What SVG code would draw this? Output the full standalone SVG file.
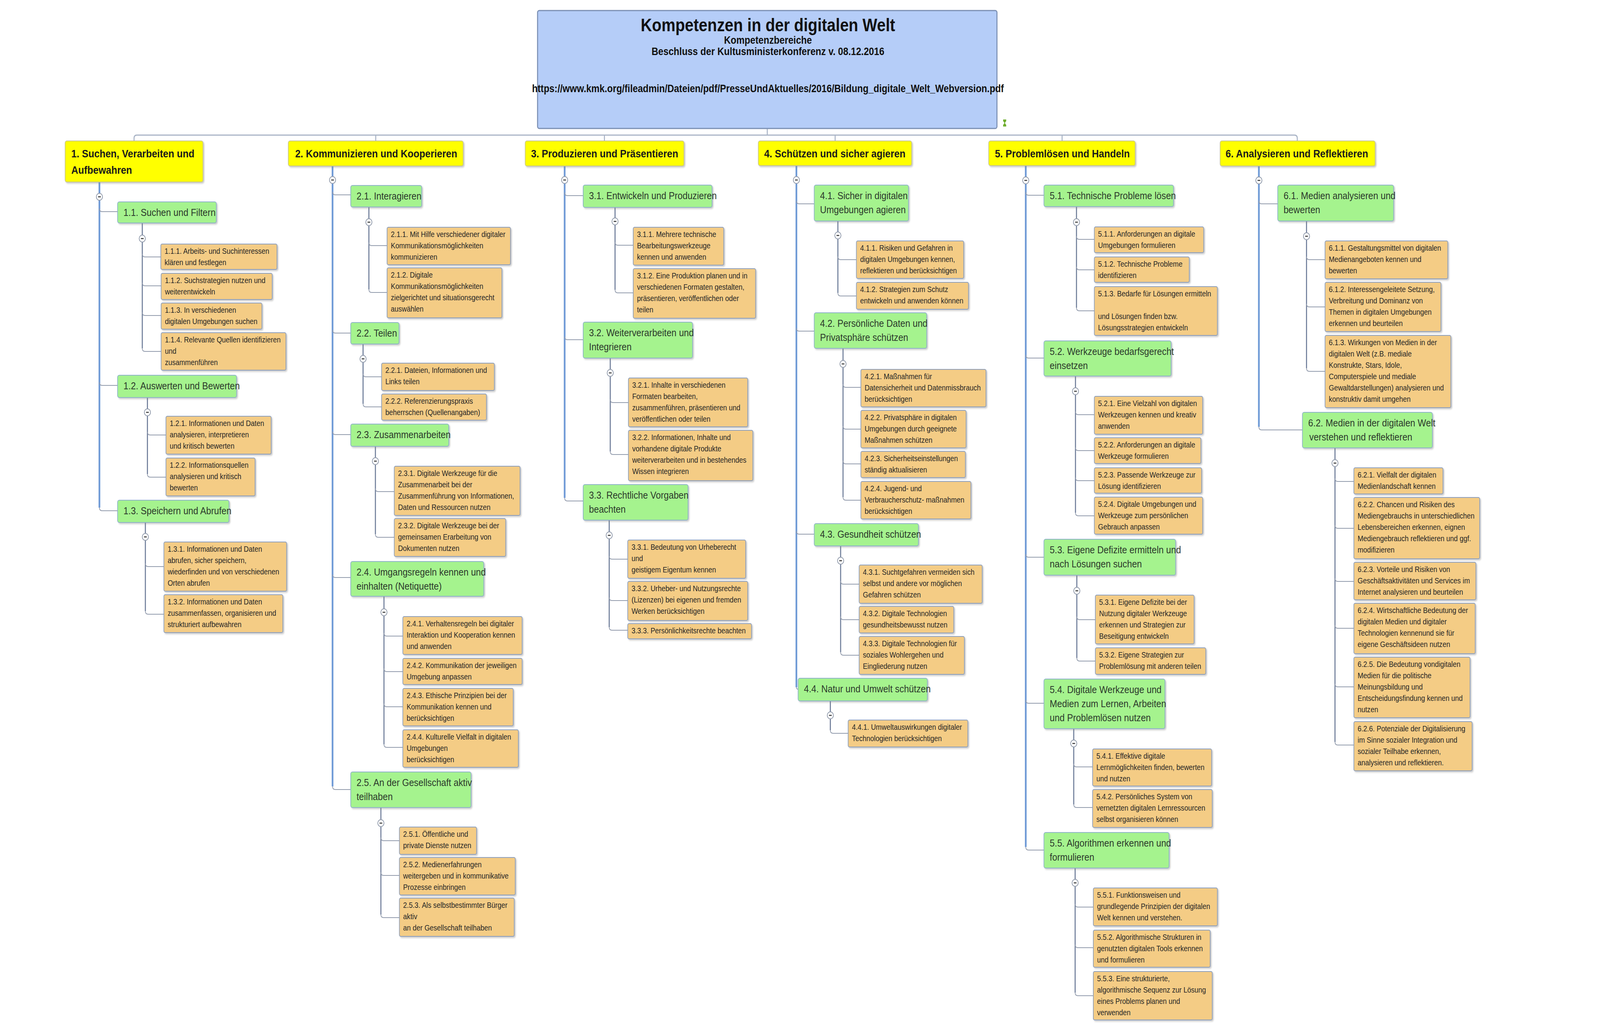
<svg xmlns="http://www.w3.org/2000/svg" width="4667" height="2625" viewBox="0 0 4667 2625" preserveAspectRatio="none" style="width:100vw;height:100vh;display:block">
<defs>
<style>
.b0{fill:#b5cdf8;stroke:#7b8fb3;stroke-width:3}
.b1{fill:#ffff00;stroke:#c9c78a;stroke-width:2;filter:url(#sh)}
.b2{fill:#a5f38e;stroke:#8eb3c9;stroke-width:2;filter:url(#sh)}
.b3{fill:#f4cc85;stroke:#8d9fbd;stroke-width:2;filter:url(#sh)}
.t0{font-family:'Liberation Sans',Arial,sans-serif;font-weight:bold;fill:#111;text-anchor:middle}
.t1{font-family:'Liberation Sans',Arial,sans-serif;font-weight:bold;font-size:28px;fill:#1a1a1a}
.t2{font-family:'Liberation Sans',Arial,sans-serif;font-size:26px;fill:#2c3a2c}
.t3{font-family:'Liberation Sans',Arial,sans-serif;font-size:20px;fill:#262626}
.bus{fill:none;stroke:#a9b4c6;stroke-width:3}
.tr1{fill:none;stroke:#6f9ad6;stroke-width:5}
.tr2{fill:none;stroke:#6c7b98;stroke-width:3}
.br{fill:none;stroke:#939cad;stroke-width:2}
</style>
<filter id="sh" x="-5%" y="-5%" width="115%" height="125%">
<feDropShadow dx="3" dy="3" stdDeviation="2" flood-color="#8a8a8a" flood-opacity="0.45"/>
</filter>
<g id="mn"><circle r="9" fill="#fff" stroke="#8a94a6" stroke-width="2"/><line x1="-4" y1="0" x2="4" y2="0" stroke="#333" stroke-width="2.5"/></g>
</defs>
<rect width="4667" height="2625" fill="#fff"/>

<g id="connectors">
<path class="bus" d="M2238,329 V346 M391,361 V354 Q391,346 399,346 H3776 Q3784,346 3784,354 V361 M1096,346 V361 M1763,346 V361 M2436,346 V361 M3098,346 V361"/>
<!-- column 1 -->
<path class="tr1" d="M290,466 V1300"/>
<path class="br" d="M290,534 Q290,542 298,542 H343 M290,979 Q290,987 298,987 H343 M290,1300 Q290,1308 298,1308 H343"/>
<path class="tr2" d="M415,571 V892 M430,1018 V1214 M424,1338 V1565"/>
<path class="br" d="M415,650 Q415,658 423,658 H469 M415,724 Q415,732 423,732 H470 M415,800 Q415,808 423,808 H470 M415,892 Q415,900 423,900 H470"/>
<path class="br" d="M430,1106 Q430,1114 438,1114 H484 M430,1214 Q430,1222 438,1222 H484"/>
<path class="br" d="M424,1443 Q424,1451 432,1451 H478 M424,1565 Q424,1573 432,1573 H478"/>
<!-- column 2 -->
<path class="tr1" d="M970,425 V2014"/>
<path class="br" d="M970,491 Q970,499 978,499 H1023 M970,845 Q970,853 978,853 H1023 M970,1105 Q970,1113 978,1113 H1023 M970,1471 Q970,1479 978,1479 H1023 M970,2014 Q970,2022 978,2022 H1023"/>
<path class="tr2" d="M1076,530 V741 M1059,881 V1034 M1095,1143 V1368 M1120,1527 V1906 M1111,2068 V2342"/>
<path class="br" d="M1076,621 Q1076,629 1084,629 H1129 M1076,741 Q1076,749 1084,749 H1129"/>
<path class="br" d="M1059,957 Q1059,965 1067,965 H1113 M1059,1034 Q1059,1042 1067,1042 H1113"/>
<path class="br" d="M1095,1251 Q1095,1259 1103,1259 H1150 M1095,1368 Q1095,1376 1103,1376 H1150"/>
<path class="br" d="M1120,1621 Q1120,1629 1128,1629 H1175 M1120,1712 Q1120,1720 1128,1720 H1175 M1120,1802 Q1120,1810 1128,1810 H1175 M1120,1906 Q1120,1914 1128,1914 H1175"/>
<path class="br" d="M1111,2145 Q1111,2153 1119,2153 H1165 M1111,2234 Q1111,2242 1119,2242 H1165 M1111,2342 Q1111,2350 1119,2350 H1165"/>
<!-- column 3 -->
<path class="tr1" d="M1647,425 V1275"/>
<path class="br" d="M1647,493 Q1647,501 1655,501 H1701 M1647,862 Q1647,870 1655,870 H1701 M1647,1275 Q1647,1283 1655,1283 H1701"/>
<path class="tr2" d="M1794,531 V742 M1780,917 V1156 M1777,1332 V1606"/>
<path class="br" d="M1794,620 Q1794,628 1802,628 H1847 M1794,742 Q1794,750 1802,750 H1847"/>
<path class="br" d="M1780,1023 Q1780,1031 1788,1031 H1833 M1780,1156 Q1780,1164 1788,1164 H1833"/>
<path class="br" d="M1777,1424 Q1777,1432 1785,1432 H1831 M1777,1530 Q1777,1538 1785,1538 H1831 M1777,1606 Q1777,1614 1785,1614 H1831"/>
<!-- column 4 -->
<path class="tr1" d="M2323,423 V1760"/>
<path class="br" d="M2323,514 Q2323,522 2331,522 H2375 M2323,840 Q2323,848 2331,848 H2375 M2323,1360 Q2323,1368 2331,1368 H2375 M2323,1760 Q2323,1765 2328,1765"/>
<path class="tr2" d="M2444,566 V750 M2459,892 V1273 M2452,1398 V1670 M2422,1795 V1870"/>
<path class="br" d="M2444,657 Q2444,665 2452,665 H2498 M2444,750 Q2444,758 2452,758 H2498"/>
<path class="br" d="M2459,984 Q2459,992 2467,992 H2511 M2459,1091 Q2459,1099 2467,1099 H2511 M2459,1180 Q2459,1188 2467,1188 H2511 M2459,1273 Q2459,1281 2467,1281 H2511"/>
<path class="br" d="M2452,1488 Q2452,1496 2460,1496 H2506 M2452,1579 Q2452,1587 2460,1587 H2506 M2452,1670 Q2452,1678 2460,1678 H2506"/>
<path class="br" d="M2422,1870 Q2422,1878 2430,1878 H2474"/>
<!-- column 5 -->
<path class="tr1" d="M2992,424 V2169"/>
<path class="br" d="M2992,492 Q2992,500 3000,500 H3045 M2992,909 Q2992,917 3000,917 H3045 M2992,1419 Q2992,1427 3000,1427 H3045 M2992,1793 Q2992,1801 3000,1801 H3045 M2992,2169 Q2992,2177 3000,2177 H3045"/>
<path class="tr2" d="M3140,529 V788 M3137,963 V1313 M3141,1473 V1685 M3132,1866 V2060 M3136,2223 V2542"/>
<path class="br" d="M3140,605 Q3140,613 3148,613 H3192 M3140,683 Q3140,691 3148,691 H3192 M3140,788 Q3140,796 3148,796 H3192"/>
<path class="br" d="M3137,1054 Q3137,1062 3145,1062 H3192 M3137,1146 Q3137,1154 3145,1154 H3192 M3137,1223 Q3137,1231 3145,1231 H3192 M3137,1313 Q3137,1321 3145,1321 H3192"/>
<path class="br" d="M3141,1579 Q3141,1587 3149,1587 H3195 M3141,1685 Q3141,1693 3149,1693 H3195"/>
<path class="br" d="M3132,1956 Q3132,1964 3140,1964 H3187 M3132,2060 Q3132,2068 3140,2068 H3187"/>
<path class="br" d="M3136,2315 Q3136,2323 3144,2323 H3189 M3136,2419 Q3136,2427 3144,2427 H3189 M3136,2542 Q3136,2550 3144,2550 H3189"/>
<!-- column 6 -->
<path class="tr1" d="M3672,425 V1093"/>
<path class="br" d="M3672,514 Q3672,522 3680,522 H3727 M3672,1093 Q3672,1101 3680,1101 H3799"/>
<path class="tr2" d="M3811,566 V943 M3894,1147 V1900"/>
<path class="br" d="M3811,657 Q3811,665 3819,665 H3865 M3811,778 Q3811,786 3819,786 H3865 M3811,943 Q3811,951 3819,951 H3865"/>
<path class="br" d="M3894,1225 Q3894,1233 3902,1233 H3949 M3894,1345 Q3894,1353 3902,1353 H3949 M3894,1481 Q3894,1489 3902,1489 H3949 M3894,1601 Q3894,1609 3902,1609 H3949 M3894,1751 Q3894,1759 3902,1759 H3949 M3894,1900 Q3894,1908 3902,1908 H3949"/>
<!-- collapse markers -->
<use href="#mn" x="290" y="504"/><use href="#mn" x="415" y="611"/><use href="#mn" x="430" y="1056"/><use href="#mn" x="424" y="1375"/>
<use href="#mn" x="970" y="461"/><use href="#mn" x="1076" y="569"/><use href="#mn" x="1059" y="919"/><use href="#mn" x="1095" y="1181"/><use href="#mn" x="1120" y="1568"/><use href="#mn" x="1111" y="2108"/>
<use href="#mn" x="1647" y="461"/><use href="#mn" x="1794" y="567"/><use href="#mn" x="1780" y="955"/><use href="#mn" x="1777" y="1371"/>
<use href="#mn" x="2323" y="461"/><use href="#mn" x="2444" y="603"/><use href="#mn" x="2459" y="932"/><use href="#mn" x="2452" y="1436"/><use href="#mn" x="2422" y="1832"/>
<use href="#mn" x="2992" y="462"/><use href="#mn" x="3140" y="569"/><use href="#mn" x="3137" y="1002"/><use href="#mn" x="3141" y="1513"/><use href="#mn" x="3132" y="1904"/><use href="#mn" x="3136" y="2261"/>
<use href="#mn" x="3672" y="462"/><use href="#mn" x="3811" y="605"/><use href="#mn" x="3894" y="1186"/>
</g>

<g id="root">
<rect class="b0" x="1568" y="27" width="1340" height="302" rx="5"/>
<text class="t0" x="2240" y="80" font-size="45.5">Kompetenzen in der digitalen Welt</text>
<text class="t0" x="2240" y="112" font-size="27">Kompetenzbereiche</text>
<text class="t0" x="2240" y="141" font-size="27">Beschluss der Kultusministerkonferenz v. 08.12.2016</text>
<text class="t0" x="2240" y="236" font-size="26.8">https://www.kmk.org/fileadmin/Dateien/pdf/PresseUndAktuelles/2016/Bildung_digitale_Welt_Webversion.pdf</text>
<path d="M2926,306 h9 v4 l-4,5 l4,5 v4 h-9 v-4 l4,-5 l-4,-5 z" fill="#6fae2f"/>
</g>

<!-- Level 1 -->
<g id="n1"><rect class="b1" x="190" y="361" width="402" height="105" rx="5"/><text class="t1" x="208" y="403">1. Suchen, Verarbeiten und<tspan x="208" dy="42">Aufbewahren</tspan></text></g>
<g id="n2"><rect class="b1" x="841" y="361" width="510" height="64" rx="5"/><text class="t1" x="861" y="403">2. Kommunizieren und Kooperieren</text></g>
<g id="n3"><rect class="b1" x="1532" y="361" width="463" height="64" rx="5"/><text class="t1" x="1549" y="403">3. Produzieren und Präsentieren</text></g>
<g id="n4"><rect class="b1" x="2212" y="361" width="447" height="63" rx="5"/><text class="t1" x="2229" y="403">4. Schützen und sicher agieren</text></g>
<g id="n5"><rect class="b1" x="2884" y="361" width="427" height="63" rx="5"/><text class="t1" x="2902" y="403">5. Problemlösen und Handeln</text></g>
<g id="n6"><rect class="b1" x="3559" y="361" width="452" height="64" rx="5"/><text class="t1" x="3575" y="403">6. Analysieren und Reflektieren</text></g>

<!-- Level 2 -->
<g id="n1-1"><rect class="b2" x="343" y="517" width="288" height="54" rx="5"/><text class="t2" x="360" y="553">1.1. Suchen und Filtern</text></g>
<g id="n1-2"><rect class="b2" x="343" y="961" width="347" height="57" rx="5"/><text class="t2" x="360" y="997">1.2. Auswerten und Bewerten</text></g>
<g id="n1-3"><rect class="b2" x="343" y="1281" width="325" height="57" rx="5"/><text class="t2" x="360" y="1317">1.3. Speichern und Abrufen</text></g>
<g id="n2-1"><rect class="b2" x="1023" y="475" width="207" height="55" rx="5"/><text class="t2" x="1040" y="511">2.1. Interagieren</text></g>
<g id="n2-2"><rect class="b2" x="1023" y="826" width="141" height="55" rx="5"/><text class="t2" x="1040" y="862">2.2. Teilen</text></g>
<g id="n2-3"><rect class="b2" x="1023" y="1086" width="286" height="57" rx="5"/><text class="t2" x="1040" y="1122">2.3. Zusammenarbeiten</text></g>
<g id="n2-4"><rect class="b2" x="1023" y="1438" width="388" height="89" rx="5"/><text class="t2" x="1040" y="1474">2.4. Umgangsregeln kennen und<tspan x="1040" dy="36">einhalten (Netiquette)</tspan></text></g>
<g id="n2-5"><rect class="b2" x="1023" y="1977" width="351" height="91" rx="5"/><text class="t2" x="1040" y="2013">2.5. An der Gesellschaft aktiv<tspan x="1040" dy="36">teilhaben</tspan></text></g>
<g id="n3-1"><rect class="b2" x="1701" y="474" width="376" height="57" rx="5"/><text class="t2" x="1718" y="510">3.1. Entwickeln und Produzieren</text></g>
<g id="n3-2"><rect class="b2" x="1701" y="825" width="319" height="92" rx="5"/><text class="t2" x="1718" y="861">3.2. Weiterverarbeiten und<tspan x="1718" dy="36">Integrieren</tspan></text></g>
<g id="n3-3"><rect class="b2" x="1701" y="1241" width="306" height="91" rx="5"/><text class="t2" x="1718" y="1277">3.3. Rechtliche Vorgaben<tspan x="1718" dy="36">beachten</tspan></text></g>
<g id="n4-1"><rect class="b2" x="2375" y="474" width="275" height="92" rx="5"/><text class="t2" x="2392" y="510">4.1. Sicher in digitalen<tspan x="2392" dy="36">Umgebungen agieren</tspan></text></g>
<g id="n4-2"><rect class="b2" x="2375" y="801" width="328" height="91" rx="5"/><text class="t2" x="2392" y="837">4.2. Persönliche Daten und<tspan x="2392" dy="36">Privatsphäre schützen</tspan></text></g>
<g id="n4-3"><rect class="b2" x="2375" y="1341" width="304" height="57" rx="5"/><text class="t2" x="2392" y="1377">4.3. Gesundheit schützen</text></g>
<g id="n4-4"><rect class="b2" x="2328" y="1737" width="377" height="58" rx="5"/><text class="t2" x="2345" y="1773">4.4. Natur und Umwelt schützen</text></g>
<g id="n5-1"><rect class="b2" x="3045" y="474" width="378" height="55" rx="5"/><text class="t2" x="3062" y="510">5.1. Technische Probleme lösen</text></g>
<g id="n5-2"><rect class="b2" x="3045" y="873" width="371" height="90" rx="5"/><text class="t2" x="3062" y="909">5.2. Werkzeuge bedarfsgerecht<tspan x="3062" dy="36">einsetzen</tspan></text></g>
<g id="n5-3"><rect class="b2" x="3045" y="1381" width="384" height="92" rx="5"/><text class="t2" x="3062" y="1417">5.3. Eigene Defizite ermitteln und<tspan x="3062" dy="36">nach Lösungen suchen</tspan></text></g>
<g id="n5-4"><rect class="b2" x="3045" y="1739" width="353" height="127" rx="5"/><text class="t2" x="3062" y="1775">5.4. Digitale Werkzeuge und<tspan x="3062" dy="36">Medien zum Lernen, Arbeiten</tspan><tspan x="3062" dy="36">und Problemlösen nutzen</tspan></text></g>
<g id="n5-5"><rect class="b2" x="3045" y="2132" width="365" height="91" rx="5"/><text class="t2" x="3062" y="2168">5.5. Algorithmen erkennen und<tspan x="3062" dy="36">formulieren</tspan></text></g>
<g id="n6-1"><rect class="b2" x="3727" y="474" width="338" height="92" rx="5"/><text class="t2" x="3744" y="510">6.1. Medien analysieren und<tspan x="3744" dy="36">bewerten</tspan></text></g>
<g id="n6-2"><rect class="b2" x="3799" y="1056" width="379" height="91" rx="5"/><text class="t2" x="3816" y="1092">6.2. Medien in der digitalen Welt<tspan x="3819" dy="36">verstehen und reflektieren</tspan></text></g>

<!-- Level 3: column 1 -->
<g id="n1-1-1"><rect class="b3" x="469" y="625" width="339" height="65" rx="4"/><text class="t3" x="480" y="650">1.1.1. Arbeits- und Suchinteressen<tspan x="480" dy="29">klären und festlegen</tspan></text></g>
<g id="n1-1-2"><rect class="b3" x="470" y="700" width="324" height="67" rx="4"/><text class="t3" x="481" y="725">1.1.2. Suchstrategien nutzen und<tspan x="481" dy="29">weiterentwickeln</tspan></text></g>
<g id="n1-1-3"><rect class="b3" x="470" y="776" width="294" height="67" rx="4"/><text class="t3" x="481" y="801">1.1.3. In verschiedenen<tspan x="481" dy="29">digitalen Umgebungen suchen</tspan></text></g>
<g id="n1-1-4"><rect class="b3" x="470" y="852" width="364" height="96" rx="4"/><text class="t3" x="481" y="877">1.1.4. Relevante Quellen identifizieren<tspan x="481" dy="29">und</tspan><tspan x="481" dy="29">zusammenführen</tspan></text></g>
<g id="n1-2-1"><rect class="b3" x="484" y="1066" width="307" height="97" rx="4"/><text class="t3" x="495" y="1091">1.2.1. Informationen und Daten<tspan x="495" dy="29">analysieren, interpretieren</tspan><tspan x="495" dy="29">und kritisch bewerten</tspan></text></g>
<g id="n1-2-2"><rect class="b3" x="484" y="1173" width="260" height="97" rx="4"/><text class="t3" x="495" y="1198">1.2.2. Informationsquellen<tspan x="495" dy="29">analysieren und kritisch</tspan><tspan x="495" dy="29">bewerten</tspan></text></g>
<g id="n1-3-1"><rect class="b3" x="478" y="1388" width="358" height="126" rx="4"/><text class="t3" x="489" y="1413">1.3.1. Informationen und Daten<tspan x="489" dy="29">abrufen, sicher speichern,</tspan><tspan x="489" dy="29">wiederfinden und von verschiedenen</tspan><tspan x="489" dy="29">Orten abrufen</tspan></text></g>
<g id="n1-3-2"><rect class="b3" x="478" y="1523" width="347" height="97" rx="4"/><text class="t3" x="489" y="1548">1.3.2. Informationen und Daten<tspan x="489" dy="29">zusammenfassen, organisieren und</tspan><tspan x="489" dy="29">strukturiert aufbewahren</tspan></text></g>

<!-- Level 3: column 2 -->
<g id="n2-1-1"><rect class="b3" x="1129" y="582" width="360" height="96" rx="4"/><text class="t3" x="1140" y="607">2.1.1. Mit Hilfe verschiedener digitaler<tspan x="1140" dy="29">Kommunikationsmöglichkeiten</tspan><tspan x="1140" dy="29">kommunizieren</tspan></text></g>
<g id="n2-1-2"><rect class="b3" x="1129" y="686" width="335" height="128" rx="4"/><text class="t3" x="1140" y="711">2.1.2. Digitale<tspan x="1140" dy="29">Kommunikationsmöglichkeiten</tspan><tspan x="1140" dy="29">zielgerichtet und situationsgerecht</tspan><tspan x="1140" dy="29">auswählen</tspan></text></g>
<g id="n2-2-1"><rect class="b3" x="1113" y="930" width="329" height="70" rx="4"/><text class="t3" x="1124" y="955">2.2.1. Dateien, Informationen und<tspan x="1124" dy="29">Links teilen</tspan></text></g>
<g id="n2-2-2"><rect class="b3" x="1113" y="1009" width="306" height="67" rx="4"/><text class="t3" x="1124" y="1034">2.2.2. Referenzierungspraxis<tspan x="1124" dy="29">beherrschen (Quellenangaben)</tspan></text></g>
<g id="n2-3-1"><rect class="b3" x="1150" y="1194" width="367" height="126" rx="4"/><text class="t3" x="1161" y="1219">2.3.1. Digitale Werkzeuge für die<tspan x="1161" dy="29">Zusammenarbeit bei der</tspan><tspan x="1161" dy="29">Zusammenführung von Informationen,</tspan><tspan x="1161" dy="29">Daten und Ressourcen nutzen</tspan></text></g>
<g id="n2-3-2"><rect class="b3" x="1150" y="1328" width="325" height="97" rx="4"/><text class="t3" x="1161" y="1353">2.3.2. Digitale Werkzeuge bei der<tspan x="1161" dy="29">gemeinsamen Erarbeitung von</tspan><tspan x="1161" dy="29">Dokumenten nutzen</tspan></text></g>
<g id="n2-4-1"><rect class="b3" x="1175" y="1579" width="348" height="97" rx="4"/><text class="t3" x="1186" y="1604">2.4.1. Verhaltensregeln bei digitaler<tspan x="1186" dy="29">Interaktion und Kooperation kennen</tspan><tspan x="1186" dy="29">und anwenden</tspan></text></g>
<g id="n2-4-2"><rect class="b3" x="1175" y="1686" width="348" height="67" rx="4"/><text class="t3" x="1186" y="1711">2.4.2. Kommunikation der jeweiligen<tspan x="1186" dy="29">Umgebung anpassen</tspan></text></g>
<g id="n2-4-3"><rect class="b3" x="1175" y="1763" width="322" height="96" rx="4"/><text class="t3" x="1186" y="1788">2.4.3. Ethische Prinzipien bei der<tspan x="1186" dy="29">Kommunikation kennen und</tspan><tspan x="1186" dy="29">berücksichtigen</tspan></text></g>
<g id="n2-4-4"><rect class="b3" x="1175" y="1869" width="337" height="96" rx="4"/><text class="t3" x="1186" y="1894">2.4.4. Kulturelle Vielfalt in digitalen<tspan x="1186" dy="29">Umgebungen</tspan><tspan x="1186" dy="29">berücksichtigen</tspan></text></g>
<g id="n2-5-1"><rect class="b3" x="1165" y="2118" width="225" height="70" rx="4"/><text class="t3" x="1176" y="2143">2.5.1. Öffentliche und<tspan x="1176" dy="29">private Dienste nutzen</tspan></text></g>
<g id="n2-5-2"><rect class="b3" x="1165" y="2196" width="338" height="96" rx="4"/><text class="t3" x="1176" y="2221">2.5.2. Medienerfahrungen<tspan x="1176" dy="29">weitergeben und in kommunikative</tspan><tspan x="1176" dy="29">Prozesse einbringen</tspan></text></g>
<g id="n2-5-3"><rect class="b3" x="1165" y="2300" width="335" height="98" rx="4"/><text class="t3" x="1176" y="2325">2.5.3. Als selbstbestimmter Bürger<tspan x="1176" dy="29">aktiv</tspan><tspan x="1176" dy="29">an der Gesellschaft teilhaben</tspan></text></g>

<!-- Level 3: column 3 -->
<g id="n3-1-1"><rect class="b3" x="1847" y="582" width="264" height="97" rx="4"/><text class="t3" x="1858" y="607">3.1.1. Mehrere technische<tspan x="1858" dy="29">Bearbeitungswerkzeuge</tspan><tspan x="1858" dy="29">kennen und anwenden</tspan></text></g>
<g id="n3-1-2"><rect class="b3" x="1847" y="688" width="357" height="127" rx="4"/><text class="t3" x="1858" y="713">3.1.2. Eine Produktion planen und in<tspan x="1858" dy="29">verschiedenen Formaten gestalten,</tspan><tspan x="1858" dy="29">präsentieren, veröffentlichen oder</tspan><tspan x="1858" dy="29">teilen</tspan></text></g>
<g id="n3-2-1"><rect class="b3" x="1833" y="968" width="348" height="125" rx="4"/><text class="t3" x="1844" y="993">3.2.1. Inhalte in verschiedenen<tspan x="1844" dy="29">Formaten bearbeiten,</tspan><tspan x="1844" dy="29">zusammenführen, präsentieren und</tspan><tspan x="1844" dy="29">veröffentlichen oder teilen</tspan></text></g>
<g id="n3-2-2"><rect class="b3" x="1833" y="1102" width="363" height="129" rx="4"/><text class="t3" x="1844" y="1127">3.2.2. Informationen, Inhalte und<tspan x="1844" dy="29">vorhandene digitale Produkte</tspan><tspan x="1844" dy="29">weiterverarbeiten und in bestehendes</tspan><tspan x="1844" dy="29">Wissen integrieren</tspan></text></g>
<g id="n3-3-1"><rect class="b3" x="1831" y="1383" width="344" height="98" rx="4"/><text class="t3" x="1842" y="1408">3.3.1. Bedeutung von Urheberecht<tspan x="1842" dy="29">und</tspan><tspan x="1842" dy="29">geistigem Eigentum kennen</tspan></text></g>
<g id="n3-3-2"><rect class="b3" x="1831" y="1489" width="350" height="100" rx="4"/><text class="t3" x="1842" y="1514">3.3.2. Urheber- und Nutzungsrechte<tspan x="1842" dy="29">(Lizenzen) bei eigenen und fremden</tspan><tspan x="1842" dy="29">Werken berücksichtigen</tspan></text></g>
<g id="n3-3-3"><rect class="b3" x="1831" y="1597" width="361" height="39" rx="4"/><text class="t3" x="1842" y="1622">3.3.3. Persönlichkeitsrechte beachten</text></g>

<!-- Level 3: column 4 -->
<g id="n4-1-1"><rect class="b3" x="2498" y="617" width="313" height="96" rx="4"/><text class="t3" x="2509" y="642">4.1.1. Risiken und Gefahren in<tspan x="2509" dy="29">digitalen Umgebungen kennen,</tspan><tspan x="2509" dy="29">reflektieren und berücksichtigen</tspan></text></g>
<g id="n4-1-2"><rect class="b3" x="2498" y="723" width="327" height="69" rx="4"/><text class="t3" x="2509" y="748">4.1.2. Strategien zum Schutz<tspan x="2509" dy="29">entwickeln und anwenden können</tspan></text></g>
<g id="n4-2-1"><rect class="b3" x="2511" y="946" width="365" height="96" rx="4"/><text class="t3" x="2522" y="971">4.2.1. Maßnahmen für<tspan x="2522" dy="29">Datensicherheit und Datenmissbrauch</tspan><tspan x="2522" dy="29">berücksichtigen</tspan></text></g>
<g id="n4-2-2"><rect class="b3" x="2511" y="1051" width="307" height="96" rx="4"/><text class="t3" x="2522" y="1076">4.2.2. Privatsphäre in digitalen<tspan x="2522" dy="29">Umgebungen durch geeignete</tspan><tspan x="2522" dy="29">Maßnahmen schützen</tspan></text></g>
<g id="n4-2-3"><rect class="b3" x="2511" y="1156" width="305" height="67" rx="4"/><text class="t3" x="2522" y="1181">4.2.3. Sicherheitseinstellungen<tspan x="2522" dy="29">ständig aktualisieren</tspan></text></g>
<g id="n4-2-4"><rect class="b3" x="2511" y="1233" width="321" height="96" rx="4"/><text class="t3" x="2522" y="1258">4.2.4. Jugend- und<tspan x="2522" dy="29">Verbraucherschutz- maßnahmen</tspan><tspan x="2522" dy="29">berücksichtigen</tspan></text></g>
<g id="n4-3-1"><rect class="b3" x="2506" y="1447" width="359" height="98" rx="4"/><text class="t3" x="2517" y="1472">4.3.1. Suchtgefahren vermeiden sich<tspan x="2517" dy="29">selbst und andere vor möglichen</tspan><tspan x="2517" dy="29">Gefahren schützen</tspan></text></g>
<g id="n4-3-2"><rect class="b3" x="2506" y="1553" width="276" height="68" rx="4"/><text class="t3" x="2517" y="1578">4.3.2. Digitale Technologien<tspan x="2517" dy="29">gesundheitsbewusst nutzen</tspan></text></g>
<g id="n4-3-3"><rect class="b3" x="2506" y="1630" width="307" height="97" rx="4"/><text class="t3" x="2517" y="1655">4.3.3. Digitale Technologien für<tspan x="2517" dy="29">soziales Wohlergehen und</tspan><tspan x="2517" dy="29">Eingliederung nutzen</tspan></text></g>
<g id="n4-4-1"><rect class="b3" x="2474" y="1844" width="349" height="69" rx="4"/><text class="t3" x="2485" y="1869">4.4.1. Umweltauswirkungen digitaler<tspan x="2485" dy="29">Technologien berücksichtigen</tspan></text></g>

<!-- Level 3: column 5 -->
<g id="n5-1-1"><rect class="b3" x="3192" y="581" width="319" height="66" rx="4"/><text class="t3" x="3203" y="606">5.1.1. Anforderungen an digitale<tspan x="3203" dy="29">Umgebungen formulieren</tspan></text></g>
<g id="n5-1-2"><rect class="b3" x="3192" y="658" width="277" height="65" rx="4"/><text class="t3" x="3203" y="683">5.1.2. Technische Probleme<tspan x="3203" dy="29">identifizieren</tspan></text></g>
<g id="n5-1-3"><rect class="b3" x="3192" y="734" width="359" height="125" rx="4"/><text class="t3" x="3203" y="759">5.1.3. Bedarfe für Lösungen ermitteln<tspan x="3203" dy="58">und Lösungen finden bzw.</tspan><tspan x="3203" dy="29">Lösungsstrategien entwickeln</tspan></text></g>
<g id="n5-2-1"><rect class="b3" x="3192" y="1015" width="316" height="97" rx="4"/><text class="t3" x="3203" y="1040">5.2.1. Eine Vielzahl von digitalen<tspan x="3203" dy="29">Werkzeugen kennen und kreativ</tspan><tspan x="3203" dy="29">anwenden</tspan></text></g>
<g id="n5-2-2"><rect class="b3" x="3192" y="1121" width="311" height="66" rx="4"/><text class="t3" x="3203" y="1146">5.2.2. Anforderungen an digitale<tspan x="3203" dy="29">Werkzeuge formulieren</tspan></text></g>
<g id="n5-2-3"><rect class="b3" x="3192" y="1198" width="313" height="65" rx="4"/><text class="t3" x="3203" y="1223">5.2.3. Passende Werkzeuge zur<tspan x="3203" dy="29">Lösung identifizieren</tspan></text></g>
<g id="n5-2-4"><rect class="b3" x="3192" y="1273" width="316" height="95" rx="4"/><text class="t3" x="3203" y="1298">5.2.4. Digitale Umgebungen und<tspan x="3203" dy="29">Werkzeuge zum persönlichen</tspan><tspan x="3203" dy="29">Gebrauch anpassen</tspan></text></g>
<g id="n5-3-1"><rect class="b3" x="3195" y="1524" width="288" height="125" rx="4"/><text class="t3" x="3206" y="1549">5.3.1. Eigene Defizite bei der<tspan x="3206" dy="29">Nutzung digitaler Werkzeuge</tspan><tspan x="3206" dy="29">erkennen und Strategien zur</tspan><tspan x="3206" dy="29">Beseitigung entwickeln</tspan></text></g>
<g id="n5-3-2"><rect class="b3" x="3195" y="1659" width="322" height="68" rx="4"/><text class="t3" x="3206" y="1684">5.3.2. Eigene Strategien zur<tspan x="3206" dy="29">Problemlösung mit anderen teilen</tspan></text></g>
<g id="n5-4-1"><rect class="b3" x="3187" y="1918" width="347" height="95" rx="4"/><text class="t3" x="3198" y="1943">5.4.1. Effektive digitale<tspan x="3198" dy="29">Lernmöglichkeiten finden, bewerten</tspan><tspan x="3198" dy="29">und nutzen</tspan></text></g>
<g id="n5-4-2"><rect class="b3" x="3187" y="2022" width="349" height="97" rx="4"/><text class="t3" x="3198" y="2047">5.4.2. Persönliches System von<tspan x="3198" dy="29">vernetzten digitalen Lernressourcen</tspan><tspan x="3198" dy="29">selbst organisieren können</tspan></text></g>
<g id="n5-5-1"><rect class="b3" x="3189" y="2274" width="362" height="97" rx="4"/><text class="t3" x="3200" y="2299">5.5.1. Funktionsweisen und<tspan x="3200" dy="29">grundlegende Prinzipien der digitalen</tspan><tspan x="3200" dy="29">Welt kennen und verstehen.</tspan></text></g>
<g id="n5-5-2"><rect class="b3" x="3189" y="2382" width="341" height="95" rx="4"/><text class="t3" x="3200" y="2407">5.5.2. Algorithmische Strukturen in<tspan x="3200" dy="29">genutzten digitalen Tools erkennen</tspan><tspan x="3200" dy="29">und formulieren</tspan></text></g>
<g id="n5-5-3"><rect class="b3" x="3189" y="2488" width="347" height="124" rx="4"/><text class="t3" x="3200" y="2513">5.5.3. Eine strukturierte,<tspan x="3200" dy="29">algorithmische Sequenz zur Lösung</tspan><tspan x="3200" dy="29">eines Problems planen und</tspan><tspan x="3200" dy="29">verwenden</tspan></text></g>

<!-- Level 3: column 6 -->
<g id="n6-1-1"><rect class="b3" x="3865" y="617" width="358" height="97" rx="4"/><text class="t3" x="3876" y="642">6.1.1. Gestaltungsmittel von digitalen<tspan x="3876" dy="29">Medienangeboten kennen und</tspan><tspan x="3876" dy="29">bewerten</tspan></text></g>
<g id="n6-1-2"><rect class="b3" x="3865" y="723" width="338" height="126" rx="4"/><text class="t3" x="3876" y="748">6.1.2. Interessengeleitete Setzung,<tspan x="3876" dy="29">Verbreitung und Dominanz von</tspan><tspan x="3876" dy="29">Themen in digitalen Umgebungen</tspan><tspan x="3876" dy="29">erkennen und beurteilen</tspan></text></g>
<g id="n6-1-3"><rect class="b3" x="3865" y="859" width="367" height="185" rx="4"/><text class="t3" x="3876" y="884">6.1.3. Wirkungen von Medien in der<tspan x="3876" dy="29">digitalen Welt (z.B. mediale</tspan><tspan x="3876" dy="29">Konstrukte, Stars, Idole,</tspan><tspan x="3876" dy="29">Computerspiele und mediale</tspan><tspan x="3876" dy="29">Gewaltdarstellungen) analysieren und</tspan><tspan x="3876" dy="29">konstruktiv damit umgehen</tspan></text></g>
<g id="n6-2-1"><rect class="b3" x="3949" y="1198" width="260" height="67" rx="4"/><text class="t3" x="3960" y="1223">6.2.1. Vielfalt der digitalen<tspan x="3960" dy="29">Medienlandschaft kennen</tspan></text></g>
<g id="n6-2-2"><rect class="b3" x="3949" y="1274" width="367" height="157" rx="4"/><text class="t3" x="3960" y="1299">6.2.2. Chancen und Risiken des<tspan x="3960" dy="29">Mediengebrauchs in unterschiedlichen</tspan><tspan x="3960" dy="29">Lebensbereichen erkennen, eignen</tspan><tspan x="3960" dy="29">Mediengebrauch reflektieren und ggf.</tspan><tspan x="3960" dy="29">modifizieren</tspan></text></g>
<g id="n6-2-3"><rect class="b3" x="3949" y="1440" width="356" height="96" rx="4"/><text class="t3" x="3960" y="1465">6.2.3. Vorteile und Risiken von<tspan x="3960" dy="29">Geschäftsaktivitäten und Services im</tspan><tspan x="3960" dy="29">Internet analysieren und beurteilen</tspan></text></g>
<g id="n6-2-4"><rect class="b3" x="3949" y="1545" width="354" height="129" rx="4"/><text class="t3" x="3960" y="1570">6.2.4. Wirtschaftliche Bedeutung der<tspan x="3960" dy="29">digitalen Medien und digitaler</tspan><tspan x="3960" dy="29">Technologien kennenund sie für</tspan><tspan x="3960" dy="29">eigene Geschäftsideen nutzen</tspan></text></g>
<g id="n6-2-5"><rect class="b3" x="3949" y="1683" width="339" height="155" rx="4"/><text class="t3" x="3960" y="1708">6.2.5. Die Bedeutung vondigitalen<tspan x="3960" dy="29">Medien für die politische</tspan><tspan x="3960" dy="29">Meinungsbildung und</tspan><tspan x="3960" dy="29">Entscheidungsfindung kennen und</tspan><tspan x="3960" dy="29">nutzen</tspan></text></g>
<g id="n6-2-6"><rect class="b3" x="3949" y="1848" width="345" height="126" rx="4"/><text class="t3" x="3960" y="1873">6.2.6. Potenziale der Digitalisierung<tspan x="3960" dy="29">im Sinne sozialer Integration und</tspan><tspan x="3960" dy="29">sozialer Teilhabe erkennen,</tspan><tspan x="3960" dy="29">analysieren und reflektieren.</tspan></text></g>
</svg>
